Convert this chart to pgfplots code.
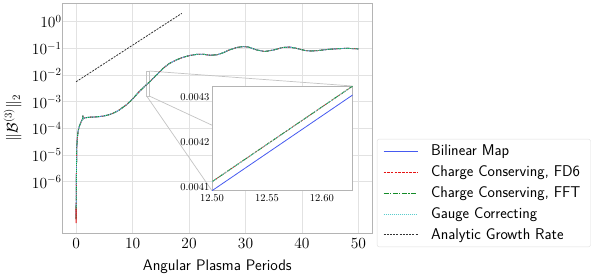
\RequirePackage{fix-cm}
\documentclass[border=0pt]{standalone}
\usepackage{fontspec}
\usepackage{pgfplots}
\usepackage{pgfplotstable}
\pgfplotsset{compat=1.18}
\definecolor{cblue}{RGB}{70,90,240}
\definecolor{cred}{RGB}{230,20,20}
\definecolor{cgreen}{RGB}{20,140,40}
\definecolor{ccyan}{RGB}{90,205,205}
\definecolor{cgrid}{RGB}{226,226,226}
\definecolor{cframe}{RGB}{180,180,180}
\definecolor{cind}{RGB}{195,195,195}
\newcommand\fLeg{\fontsize{15.6}{18}\selectfont\sffamily}
\newcommand\fXlab{\fontsize{15.3}{18}\selectfont\sffamily}
\newcommand\fYlab{\fontsize{15.5}{18}\selectfont}
\newcommand\fXTick{\fontsize{15.5}{18}\selectfont}
\newcommand\fYTick{\fontsize{15.5}{18}\selectfont}
\newcommand\fInset{\fontsize{10.5}{13}\selectfont}

\pgfplotstableread{
x y
0.00 3.98e-8
0.02 2.51e-7
0.05 1.26e-6
0.08 6.31e-6
0.12 2.00e-5
0.20 3.98e-5
0.35 7.94e-5
0.60 1.26e-4
0.90 1.78e-4
1.15 2.24e-4
1.20 3.02e-4
1.25 2.29e-4
1.60 2.51e-4
2.50 2.63e-4
3.50 2.69e-4
4.80 2.88e-4
5.80 3.24e-4
6.60 3.72e-4
7.50 4.68e-4
8.30 6.17e-4
9.00 7.94e-4
10.0 1.26e-3
11.0 2.19e-3
12.0 3.55e-3
13.0 5.50e-3
14.0 8.91e-3
15.4 1.78e-2
16.5 2.69e-2
17.8 3.72e-2
19.0 4.68e-2
20.1 5.37e-2
21.5 6.03e-2
22.5 6.03e-2
23.7 5.50e-2
25.0 5.75e-2
26.0 6.76e-2
27.0 8.51e-2
28.4 0.107
29.6 0.117
30.5 0.112
32.0 8.71e-2
33.4 7.59e-2
35.0 8.71e-2
36.5 0.107
37.8 0.112
39.0 0.100
40.5 8.32e-2
41.6 7.94e-2
43.0 8.32e-2
44.5 9.12e-2
46.6 9.77e-2
48.0 0.100
50.0 9.55e-2
}\maincurve

\begin{document}
\begin{tikzpicture}
\useasboundingbox (-62pt,-44pt) rectangle (537pt,233pt);
\begin{axis}[
  at={(0pt,0pt)}, anchor=south west,
  width=310.6pt, height=230pt, scale only axis,
  ymode=log,
  xmin=-2.5, xmax=52.5,
  ymin=1.2e-8, ymax=5.0,
  xtick={0,10,20,30,40,50},
  xticklabels={$0$,$10$,$20$,$30$,$40$,$50$},
  ytick={1e-6,1e-5,1e-4,1e-3,1e-2,1e-1,1},
  yticklabels={$10^{-6}$,$10^{-5}$,$10^{-4}$,$10^{-3}$,$10^{-2}$,$10^{-1}$,$10^{0}$},
  minor ytick={},
  yminorticks=false,
  major tick length=0pt,
  grid=major,
  major grid style={cgrid, line width=0.6pt},
  axis line style={cframe, line width=0.7pt},
  xticklabel style={font=\fXTick, yshift=-1.5pt},
  yticklabel style={font=\fYTick, xshift=3pt},
  xlabel={Angular Plasma Periods},
  xlabel style={at={(axis description cs:0.5,-0.165)}, anchor=base, font=\fXlab},
  ylabel={$\|\mathcal{B}^{(3)}\|_2$},
  ylabel style={at={(axis description cs:-0.159,0.5)}, anchor=center, font=\fYlab},
  legend cell align=left,
  legend style={at={(axis description cs:1.014,-0.061)}, anchor=south west,
    draw=black!13, rounded corners=2pt, font=\fLeg,
    row sep=0pt, column sep=9pt, inner xsep=6pt, inner ysep=1.5pt,
    nodes={inner xsep=4pt, inner ysep=4.3pt}},
  legend image code/.code={\draw[mark repeat=2,mark phase=2,#1] plot coordinates {(0pt,0pt) (34pt,0pt)};},
  clip=true,
]
% inset indicator
\draw[cind, line width=0.7pt] (axis cs:12.5,0.00162) rectangle (axis cs:13.0,0.0141);
\draw[cind, line width=0.7pt] (axis cs:13.0,0.0141) -- (rel axis cs:0.936,0.639);
\draw[cind, line width=0.7pt] (axis cs:12.5,0.00162) -- (rel axis cs:0.4829,0.1839);
\draw[cind, line width=0.7pt] (axis cs:13.0,0.00162) -- (rel axis cs:0.936,0.1839);

\addplot[color=cblue, line width=0.9pt] table[x=x,y=y] {\maincurve};
\addlegendentry{Bilinear Map}
\addplot[color=cred, line width=0.9pt, dash pattern=on 2.5pt off 1.2pt] table[x=x,y=y] {\maincurve};
\addlegendentry{Charge Conserving, FD6}
\addplot[color=cgreen, line width=0.9pt, dash pattern=on 5pt off 1.5pt on 1.2pt off 1.5pt] table[x=x,y=y] {\maincurve};
\addlegendentry{Charge Conserving, FFT}
\addplot[color=ccyan, line width=0.8pt, dash pattern=on 1pt off 1pt] table[x=x,y=y] {\maincurve};
\addlegendentry{Gauge Correcting}
\addplot[color=black!80, line width=0.8pt, dash pattern=on 2pt off 1.2pt] coordinates {(0,0.0056) (18.7,2.04)};
\addlegendentry{Analytic Growth Rate}
\addplot[color=cred, line width=0.9pt, forget plot] coordinates {(0,2.8e-8) (0.01,1.0e-7)};
\end{axis}

\begin{axis}[
  at={(150pt,42.3pt)}, anchor=south west,
  width=140.7pt, height=104.7pt, scale only axis,
  xmin=12.5, xmax=12.628,
  ymin=0.004091, ymax=0.004325,
  axis background/.style={fill=white},
  xtick={12.5,12.55,12.6},
  xticklabels={$12.50$,$12.55$,$12.60$},
  ytick={0.0041,0.0042,0.0043},
  yticklabels={$0.0041$,$0.0042$,$0.0043$},
  scaled ticks=false,
  major tick length=0pt,
  axis line style={cframe, line width=0.7pt},
  every tick label/.append style={font=\fInset},
  yticklabel style={xshift=1pt},
]
\addplot[color=cblue, line width=0.8pt] coordinates {(12.5,0.004091) (12.628,0.004305)};
\addplot[color=cred, line width=0.8pt, dash pattern=on 2.5pt off 1.2pt] coordinates {(12.5,0.004111) (12.628,0.004325)};
\addplot[color=cgreen, line width=0.8pt, dash pattern=on 5pt off 1.5pt on 1.2pt off 1.5pt] coordinates {(12.5,0.004111) (12.628,0.004325)};
\addplot[color=ccyan, line width=0.7pt, dash pattern=on 1pt off 1pt] coordinates {(12.5,0.004111) (12.628,0.004325)};
\end{axis}
\end{tikzpicture}
\end{document}
